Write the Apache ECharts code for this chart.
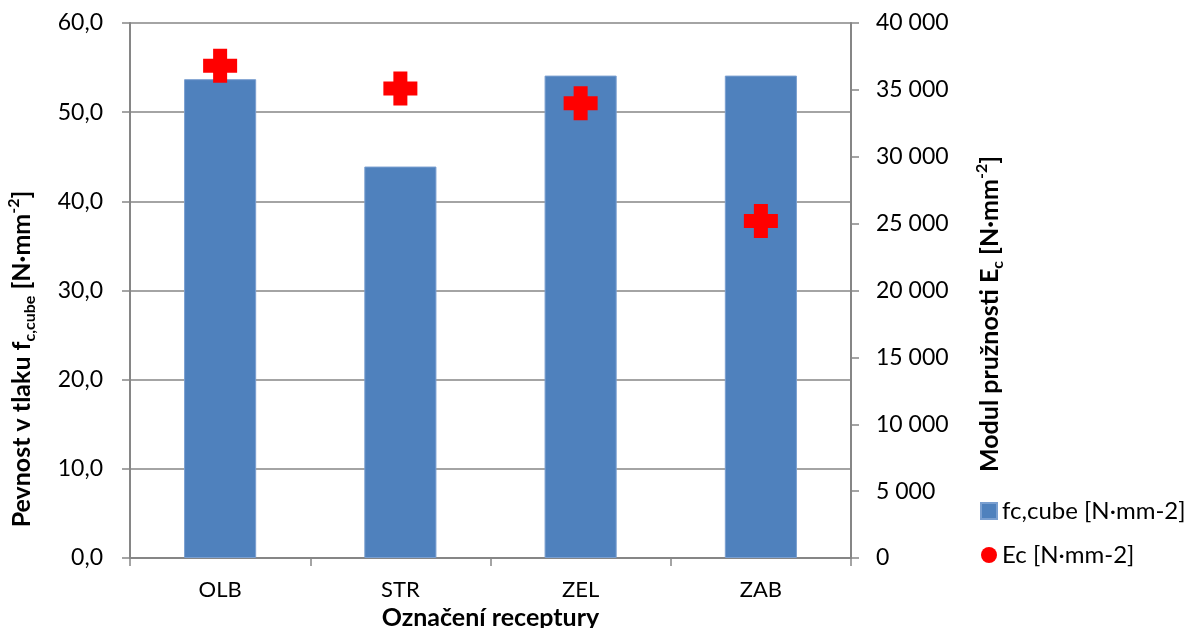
<!DOCTYPE html>
<html>
<head>
<meta charset="utf-8">
<script src="https://cdn.jsdelivr.net/npm/echarts@6/dist/echarts.min.js"></script>
<style>
html,body{margin:0;padding:0;background:#fff;}
#chart{width:1186px;height:628px;}
</style>
</head>
<body>
<div id="chart"></div>
<script>
const categories = ['OLB', 'STR', 'ZEL', 'ZAB'];
const fcCube = [53.7, 43.9, 54.1, 54.1];
const ec = [36800, 35100, 34000, 25200];
const leftTicks = { min: 0, max: 60, interval: 10 };
const rightTicks = { min: 0, max: 40000, interval: 5000 };

const FONT = 'Lato, "Open Sans", sans-serif';
const AXIS_GREY = '#868686';
const plusPath = 'path://M10,0 H24 V10 H34 V24 H24 V34 H10 V24 H0 V10 H10 Z';

const chart = echarts.init(document.getElementById('chart'));

function richTitle(size) {
  return {
    a: { fontFamily: FONT, fontWeight: 'bold', fontSize: size, color: '#000', lineHeight: 32 },
    sub: { fontFamily: FONT, fontWeight: 'bold', fontSize: Math.round(size * 0.62), color: '#000', lineHeight: 12, verticalAlign: 'bottom' },
    sup: { fontFamily: FONT, fontWeight: 'bold', fontSize: Math.round(size * 0.62), color: '#000', lineHeight: 12, verticalAlign: 'top' }
  };
}

chart.setOption({
  animation: false,
  backgroundColor: '#fff',
  grid: { left: 130, right: 335, top: 23, bottom: 70, containLabel: false, outerBoundsMode: 'none' },
  legend: {
    orient: 'vertical',
    left: 975,
    top: 494,
    itemGap: 20,
    itemWidth: 16,
    itemHeight: 16,
    textStyle: { fontFamily: FONT, fontSize: 24, color: '#000' },
    data: [
      { name: 'fc,cube [N·mm-2]', icon: 'rect' },
      { name: 'Ec [N·mm-2]', icon: 'circle' }
    ]
  },
  xAxis: {
    type: 'category',
    data: categories,
    name: 'Označení receptury',
    nameLocation: 'middle',
    nameGap: 44,
    nameTextStyle: { fontFamily: FONT, fontWeight: 'bold', fontSize: 25, color: '#000' },
    axisLine: { lineStyle: { color: AXIS_GREY, width: 2 } },
    axisTick: { show: true, length: 8, lineStyle: { color: AXIS_GREY, width: 1.5 } },
    axisLabel: { fontFamily: FONT, fontSize: 22, color: '#000', margin: 21 }
  },
  yAxis: [
    {
      type: 'value',
      position: 'left',
      min: leftTicks.min, max: leftTicks.max, interval: leftTicks.interval,
      axisLine: { show: true, lineStyle: { color: AXIS_GREY, width: 2 } },
      axisTick: { show: true, length: 8, lineStyle: { color: AXIS_GREY, width: 1.5 } },
      splitLine: { show: true, lineStyle: { color: AXIS_GREY, width: 1.5 } },
      axisLabel: {
        fontFamily: FONT, fontSize: 23, color: '#000', margin: 27,
        formatter: v => v.toFixed(1).replace('.', ',')
      }
    },
    {
      type: 'value',
      position: 'right',
      min: rightTicks.min, max: rightTicks.max, interval: rightTicks.interval,
      axisLine: { show: true, lineStyle: { color: AXIS_GREY, width: 2 } },
      axisTick: { show: true, length: 8, lineStyle: { color: AXIS_GREY, width: 1.5 } },
      splitLine: { show: false },
      axisLabel: {
        fontFamily: FONT, fontSize: 23, color: '#000', margin: 25,
        formatter: v => String(v).replace(/\B(?=(\d{3})+(?!\d))/g, ' ')
      }
    }
  ],
  graphic: [
    {
      type: 'text',
      x: 22, y: 359,
      rotation: Math.PI / 2,
      style: {
        text: '{a|Pevnost v tlaku f}{sub|c,cube}{a| [N·mm}{sup|-2}{a|]}',
        rich: richTitle(25),
        align: 'center',
        verticalAlign: 'middle'
      }
    },
    {
      type: 'text',
      x: 990, y: 314,
      rotation: Math.PI / 2,
      style: {
        text: '{a|Modul pružnosti E}{sub|c}{a| [N·mm}{sup|-2}{a|]}',
        rich: richTitle(25),
        align: 'center',
        verticalAlign: 'middle'
      }
    }
  ],
  series: [
    {
      name: 'fc,cube [N·mm-2]',
      type: 'bar',
      yAxisIndex: 0,
      data: fcCube,
      barWidth: '40%',
      itemStyle: { color: '#4F81BD', borderColor: '#7A9FD0', borderWidth: 1 }
    },
    {
      name: 'Ec [N·mm-2]',
      type: 'scatter',
      yAxisIndex: 1,
      data: ec,
      symbol: plusPath,
      symbolSize: 34,
      itemStyle: { color: '#FF0000', opacity: 1 },
      z: 5
    }
  ]
});
</script>
</body>
</html>
